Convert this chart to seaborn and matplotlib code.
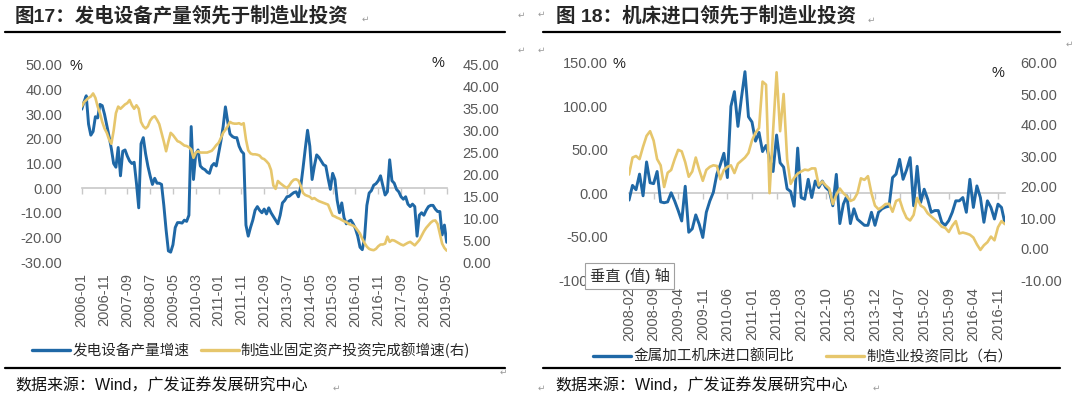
import numpy as np
import pandas as pd
import matplotlib
matplotlib.use("Agg")
import matplotlib.pyplot as plt
import seaborn as sns
from matplotlib.lines import Line2D

sns.set_theme(style="white")
plt.rcParams["font.family"] = ["Liberation Sans", "Noto Sans CJK SC", "DejaVu Sans"]

# ---- 图17 data (monthly, 2006-01 .. 2019-05) ----
months17 = pd.date_range("2006-01-01", periods=161, freq="MS")
gen_equip = [
    32, 35, 37.5, 26, 21.5, 23, 29, 28.5, 34, 33.5,
    30, 25.5, 21, 16, 10, 8.5, 16.5, 5, 15, 15.5,
    13, 11, 10, 10.5, 2, -8, 18, 20.5, 14, 9,
    5, 1.5, 4, 2, 2, 1.5, -7, -17, -25.5, -26,
    -23, -16, -14, -14, -14.2, -13, -13.5, -11, 25, 3.5,
    14, 15.5, 9, 8, 7.5, 6.5, 6, 9, 10, 9,
    14, 19, 25, 33, 27, 22, 21, 20.5, 20.5, 17,
    15, 14, -15, -19.5, -16, -13, -9, -7.5, -9, -10,
    -8.5, -10.5, -8, -10, -11.5, -13, -14.5, -11, -6, -5,
    -3.5, -3.3, -2.5, -1.8, -1.5, -3.5, 0.5, 8, 16, 23.5,
    17, 3.5, 9, 13.5, 12.5, 11, 9.5, 9, 4, -0.5,
    6, 3.5, -5, -10, -6, -12, -14.5, -13.5, -13, -14.5,
    -16.5, -19.5, -24, -25, -20, -7, -2, -1, 1.2, 1.8,
    3, 5, 1, -2.8, -1.5, 11.5, 3, 2, -0.5, -1.5,
    -3.5, -4.5, -3.5, -6.5, -7.5, -6.5, -7.5, -19.5, -11, -10,
    -11, -9, -7.5, -7, -7, -8.5, -9.5, -9.5, -19, -15,
    -22,
]
mfg_fai = [
    35.5, 36.5, 37, 37.5, 37.8, 38.5, 37.5, 35.5, 34, 32,
    30.5, 29.5, 28, 27, 30, 34, 35.5, 35, 35.5, 36,
    36.3, 37, 35.8, 35, 35.8, 35, 32, 31, 30.5, 31,
    32.3, 33, 33.3, 32.5, 31.5, 29.5, 27.5, 25.3, 27.5, 29.5,
    29, 28.3, 27.6, 27.4, 27, 26.6, 26.5, 26.2, 25.7, 23.8,
    25, 25.3, 25, 25, 25, 25, 25.2, 25.4, 26, 26.7,
    27.2, 28.3, 29.5, 30.2, 31, 32, 31.7, 31.6, 31.6, 31.7,
    31.4, 31.7, 28, 25.5, 24.8, 24.6, 24.6, 24.5, 24.3, 23.7,
    23.5, 23, 22.4, 21, 17.5, 16.7, 18.5, 18, 17.6, 17.2,
    16.9, 17.5, 18.3, 18.8, 18.9, 18.6, 17.4, 15.8, 15.3, 15.1,
    14.9, 14.4, 14.6, 14.2, 13.9, 13.7, 13.5, 13.3, 13.1, 11.8,
    10.6, 10.4, 10.1, 9.9, 9.6, 9.3, 9.1, 8.7, 8.5, 8.3,
    7.9, 7.2, 6.5, 5.3, 4.3, 3.5, 3, 2.8, 2.7, 3,
    3.6, 4, 4, 4.2, 5.8, 4.6, 5, 4.9, 4.6, 4.3,
    4, 3.8, 4.1, 4.4, 4.6, 4.2, 3.8, 4.4, 5, 6,
    7, 7.8, 8.4, 9, 9.4, 9.5, 8.7, 6.5, 4.2, 3.2,
    2.6,
]

# ---- 图18 data (monthly, 2008-02 .. 2017-01) ----
months18 = pd.date_range("2008-02-01", periods=108, freq="MS")
machine_import = [
    -8, 9, 4, 22, -3, 36, 12, 11, 25, -10,
    -11, -10, 0.5, -9, -20, -32, 8, -45, -41, -25,
    -36, -51, -22, -9, 1, 22, 33, 46, 18, 100,
    117, 77, 110, 140, 88, 82, 60, 70, 48, 55,
    40, 25, 67, 35, 30, 5, 2, -15, 52, -5,
    -7, 16, -5, 14, 6.5, 14, 6.5, 2.7, -14.5, 21.7,
    -35, -12.6, -3, -35, -18, -30, -33.5, -37, -37, -22,
    -37, -22, -18, -16, -15, 18, 22, 39, 16, 27,
    41, -14.5, 31, -10.7, 4.6, -6.8, -22, -20, -20, -33.5,
    -37, -31.6, -22, -8.8, -8.8, -5, -22, 16, -16.4, 8.4,
    -5, -33.5, -8.8, -16.4, -29.7, -12.6, -16.4, -35,
]
mfg_inv = [
    24, 29.5, 30, 29, 33, 36.5, 38, 35, 29, 27,
    20, 24.6, 25.5, 29, 32, 31.5, 28, 23.3, 25, 29.5,
    25.5, 22, 25.5, 26.5, 27, 26.8, 22.5, 25.5, 26.5, 27,
    24.5, 27.5, 28.5, 29.5, 31, 35, 37.5, 39, 54, 53,
    18, 38, 57, 38, 50, 29, 21, 23, 24.3, 25,
    25.6, 25.4, 26, 26, 20.5, 21.8, 20.5, 19.5, 14.5, 17.5,
    19.5, 18, 17, 15.5, 16, 18, 22.8, 22.3, 23.5, 18,
    14, 12.8, 13.5, 14.5, 14.6, 12, 15.5, 16, 12.5, 10,
    9.2, 11, 16.5, 14, 13.3, 11.5, 10.5, 9.5, 8.5, 7.2,
    6.8, 5.5, 7.5, 9, 5, 5.3, 5, 4.6, 3.7, 1.5,
    -0.3, 1.2, 2.2, 4, 2.8, 7, 9, 8,
]

BLUE = "#1f68a6"
GOLD = "#e6c66c"
TICK = "#595959"
W, H = 1080, 397

df17 = pd.DataFrame({"t": np.arange(len(months17)),
                     "gen": gen_equip, "fai": mfg_fai})
df18 = pd.DataFrame({"t": np.arange(len(months18)),
                     "imp": machine_import, "inv": mfg_inv})

fig = plt.figure(figsize=(W / 100, H / 100), dpi=100)


def box(x0, x1, ytop, ybot):
    return [x0 / W, 1 - ybot / H, (x1 - x0) / W, (ybot - ytop) / H]


def style_axes(ax, axr, n, step, labels, zero_frac, lpad, rpad, xpad):
    for a in (ax, axr):
        for s in a.spines.values():
            s.set_visible(False)
        a.grid(False)
    ax.set_xlim(0, n - 1)
    ticks = np.arange(0, n, step)
    ax.set_xticks(ticks)
    ax.set_xticklabels(labels, rotation=90)
    ax.tick_params(axis="x", length=0, pad=xpad, labelsize=10.5, labelcolor=TICK)
    ax.tick_params(axis="y", length=0, pad=lpad, labelsize=10.5, labelcolor=TICK)
    axr.tick_params(axis="y", length=0, pad=rpad, labelsize=10.5, labelcolor=TICK)
    ax.set_xlabel("")
    ax.set_ylabel("")
    axr.set_ylabel("")
    # grey zero line with the little tick marks
    zx = ax.secondary_xaxis(zero_frac)
    zx.set_xticks(ticks)
    zx.set_xticklabels([])
    zx.tick_params(direction="out", length=4, width=1, color="#c8c8c8")
    zx.spines["bottom"].set_color("#c8c8c8")
    zx.spines["bottom"].set_linewidth(1.2)
    zx.spines["top"].set_visible(False)


# ---------------- left chart ----------------
ax1 = fig.add_axes(box(81.7, 446.7, 65, 262))
ax1r = ax1.twinx()
sns.lineplot(data=df17, x="t", y="gen", ax=ax1, color=BLUE, linewidth=2.1, legend=False)
sns.lineplot(data=df17, x="t", y="fai", ax=ax1r, color=GOLD, linewidth=1.9, legend=False)
ax1.set_ylim(-30, 50)
ax1.set_yticks(np.arange(-30, 51, 10))
ax1.set_yticklabels([f"{v:.2f}" for v in np.arange(-30, 51, 10)])
ax1r.set_ylim(0, 45)
ax1r.set_yticks(np.arange(0, 46, 5))
ax1r.set_yticklabels([f"{v:.2f}" for v in np.arange(0, 46, 5)])
style_axes(ax1, ax1r, len(months17), 10, months17[::10].strftime("%Y-%m"),
           30 / 80, 14, 11.5, 8)

# ---------------- right chart ----------------
ax2 = fig.add_axes(box(629, 1005, 63, 280))
ax2r = ax2.twinx()
sns.lineplot(data=df18, x="t", y="imp", ax=ax2, color=BLUE, linewidth=2.1, legend=False)
sns.lineplot(data=df18, x="t", y="inv", ax=ax2r, color=GOLD, linewidth=1.9, legend=False)
ax2.set_ylim(-100, 150)
ax2.set_yticks(np.arange(-100, 151, 50))
ax2.set_yticklabels([f"{v:.2f}" for v in np.arange(-100, 151, 50)])
ax2r.set_ylim(-10, 60)
ax2r.set_yticks(np.arange(-10, 61, 10))
ax2r.set_yticklabels([f"{v:.2f}" for v in np.arange(-10, 61, 10)])
style_axes(ax2, ax2r, len(months18), 7, months18[::7].strftime("%Y-%m"),
           100 / 250, 15, 11, 5)

# ---------------- titles, rules, sources ----------------
cjk = ["Noto Sans CJK SC", "DejaVu Sans"]
fig.text(15 / W, 1 - 16 / H, "图17：发电设备产量领先于制造业投资", fontsize=14,
         fontweight="bold", va="center", family=["Liberation Sans", "Noto Sans CJK SC"])
fig.text(556 / W, 1 - 16 / H, "图 18：机床进口领先于制造业投资", fontsize=14,
         fontweight="bold", va="center", family=["Liberation Sans", "Noto Sans CJK SC"])

for x0, x1 in [(5, 505), (543, 1060)]:
    fig.add_artist(Line2D([x0 / W, x1 / W], [1 - 31.5 / H] * 2, color="black", lw=1.6))
    fig.add_artist(Line2D([x0 / W, x1 / W], [1 - 368 / H] * 2, color="black", lw=1.6))

src = "数据来源：Wind，广发证券发展研究中心"
fig.text(15 / W, 1 - 386 / H, src, fontsize=11.5, va="center",
         family=["Liberation Sans", "Noto Sans CJK SC"], color="#111111")
fig.text(555 / W, 1 - 386 / H, src, fontsize=11.5, va="center",
         family=["Liberation Sans", "Noto Sans CJK SC"], color="#111111")

# paragraph marks
for x, y in [(362, 19), (868, 20), (333, 388), (873, 388), (500, 372),
             (518, 15), (518, 50), (538, 14), (538, 50), (1066, 44), (538, 388)]:
    fig.text(x / W, 1 - y / H, "↵", fontsize=6.5, color="#9a9a9a", va="center",
             family="DejaVu Sans")

# unit marks
fig.text(70 / W, 1 - 66 / H, "%", fontsize=10.5, color="#222222", va="center")
fig.text(431 / W, 1 - 63 / H, "%", fontsize=10.5, color="#222222", va="center")
fig.text(613 / W, 1 - 64 / H, "%", fontsize=10.5, color="#222222", va="center")
fig.text(992 / W, 1 - 73 / H, "%", fontsize=10.5, color="#222222", va="center")

# legends
h_blue = Line2D([], [], color=BLUE, lw=2.4)
h_gold = Line2D([], [], color=GOLD, lw=2.4)
fig.legend([h_blue, h_gold], ["发电设备产量增速", "制造业固定资产投资完成额增速(右)"],
           loc="center left", bbox_to_anchor=(32 / W, 1 - 350 / H), ncol=2,
           frameon=False, borderpad=0, borderaxespad=0, handlelength=2.6,
           handletextpad=0.15, columnspacing=0.8, prop={"family": cjk, "size": 10.5})
fig.legend([h_blue, h_gold], ["金属加工机床进口额同比", "制造业投资同比（右）"],
           loc="center left", bbox_to_anchor=(593 / W, 1 - 357 / H), ncol=2,
           frameon=False, borderpad=0, borderaxespad=0, handlelength=2.6,
           handletextpad=0.15, columnspacing=2.2, prop={"family": cjk, "size": 10.5})

# hover tooltip captured in the screenshot
fig.text(590 / W, 1 - 276 / H, "垂直 (值) 轴", fontsize=11, va="center", color="#333333",
         family=["Liberation Sans", "Noto Sans CJK SC"],
         bbox=dict(boxstyle="square,pad=0.3", facecolor="white", edgecolor="#a0a0a0", lw=0.8),
         zorder=10)

fig.savefig("out.png", dpi=100)
